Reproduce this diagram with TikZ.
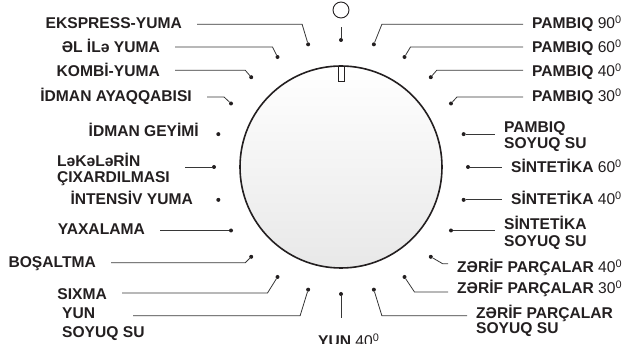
\documentclass[tikz,border=0pt]{standalone}
\usepackage{fontspec}
\setmainfont{Liberation Sans}
\definecolor{ink}{RGB}{35,31,32}
\definecolor{wire}{RGB}{55,55,55}
\newcommand{\wdeg}[1]{{\mdseries #1\textsuperscript{0}}}

\begin{document}
\begin{tikzpicture}[x=1pt,y=-1pt,
    dot/.style={circle,fill=ink,inner sep=0pt,minimum size=4pt},
    leader/.style={draw=wire,line width=0.8pt},
    tag/.style={text=ink,font=\fontsize{15.6}{16}\selectfont\bfseries,inner ysep=0pt,align=left},
    tagL/.style={tag,anchor=base east,inner xsep=15pt},
    tagR/.style={tag,anchor=base west,inner xsep=9pt}]
    \useasboundingbox (0,0) rectangle (625,344);
    % dial
    \coordinate (c) at (341,167);
    \draw[ink,line width=1.6pt,top color=white,bottom color=black!9] (c) circle (101);
    \draw[ink,fill=white,line width=0.8pt] (338,66) rectangle (344,81);
    \node[draw=ink,circle,minimum size=16pt,inner sep=0pt,line width=0.9pt] (off) at (341,10) {};
    % positions, clockwise from the top
    \foreach \k in {0,...,23}
      \path (c) ++({15*\k-90}:127) node[dot] (p\k) {};
    % right side
    \node[tagR] (t1) at (523,29) {PAMBIQ \wdeg{90}};
    \node[tagR] (t2) at (523,53) {PAMBIQ \wdeg{60}};
    \node[tagR] (t3) at (523,77) {PAMBIQ \wdeg{40}};
    \node[tagR] (t4) at (523,102) {PAMBIQ \wdeg{30}};
    \node[tagR] (t5) at (495,149) {PAMBIQ\\SOYUQ SU};
    \node[tagR] (t6) at (502,173) {SİNTETİKA \wdeg{60}};
    \node[tagR] (t7) at (502,205) {SİNTETİKA \wdeg{40}};
    \node[tagR] (t8) at (495,247) {SİNTETİKA\\[1pt]SOYUQ SU};
    \node[tagR] (t9) at (448,273) {ZƏRİF PARÇALAR \wdeg{40}};
    \node[tagR] (t10) at (448,294) {ZƏRİF PARÇALAR \wdeg{30}};
    \node[tagR] (t11) at (467,334) {ZƏRİF PARÇALAR\\[-1pt]SOYUQ SU};
    \node[tag,anchor=base west,inner xsep=0pt] (t12) at (318,347) {YUN \wdeg{40}};
    % left side
    \node[tag,anchor=base west,inner xsep=0pt] (t13) at (62,338) {YUN\\[3pt]SOYUQ SU};
    \node[tagL] (t14) at (122,300) {SIXMA};
    \node[tagL] (t15) at (111,268) {BOŞALTMA};
    \node[tagL] (t16) at (160,235) {YAXALAMA};
    \node[tagL] (t17) at (208,205) {İNTENSİV YUMA};
    \node[tagL] (t18) at (185,183) {LəKəLəRİN\\ÇIXARDILMASI};
    \node[tagL] (t19) at (214,137) {İDMAN GEYİMİ};
    \node[tagL] (t20) at (207,102) {İDMAN AYAQQABISI};
    \node[tagL] (t21) at (175,77) {KOMBİ-YUMA};
    \node[tagL] (t22) at (175,53) {ƏL İLə YUMA};
    \node[tagL] (t23) at (197,29) {EKSPRESS-YUMA};
    % leaders
    \draw[leader] (p0) -- ++(0,-13);
    \draw[leader] (p1) -- ++(8,-20) coordinate (k) -- (k -| t1.west);
    \draw[leader] (p2) -- ++(6,-10) coordinate (k) -- (k -| t2.west);
    \draw[leader] (p3) -- ++(6,-7) coordinate (k) -- (k -| t3.west);
    \draw[leader] (p4) -- ++(6,-6.5) coordinate (k) -- (k -| t4.west);
    \draw[leader] (p5) -- (p5 -| t5.west);
    \draw[leader] (p6) -- (p6 -| t6.west);
    \draw[leader] (p7) -- (p7 -| t7.west);
    \draw[leader] (p8) -- (p8 -| t8.west);
    \draw[leader] (p9) -- ++(12,7) coordinate (k) -- (k -| t9.west);
    \draw[leader] (p10) -- ++(10,15) coordinate (k) -- (k -| t10.west);
    \draw[leader] (p11) -- ++(8,26) coordinate (k) -- (k -| t11.west);
    \draw[leader] (p12) -- ++(0,24);
    \draw[leader] (p13) -- ++(-8,26) -- ++(-167,0);
    \draw[leader] (p14) -- ++(-10,16) coordinate (k) -- (k -| t14.east);
    \draw[leader] (p15) -- ++(-6,6) coordinate (k) -- (k -| t15.east);
    \draw[leader] (p16) -- (p16 -| t16.east);
    \draw[leader] (p18) -- (p18 -| t18.east);
    \draw[leader] (p20) -- ++(-7,-6.5) coordinate (k) -- (k -| t20.east);
    \draw[leader] (p21) -- ++(-6,-7) coordinate (k) -- (k -| t21.east);
    \draw[leader] (p22) -- ++(-5,-10) coordinate (k) -- (k -| t22.east);
    \draw[leader] (p23) -- ++(-6,-20) coordinate (k) -- (k -| t23.east);
\end{tikzpicture}
\end{document}
